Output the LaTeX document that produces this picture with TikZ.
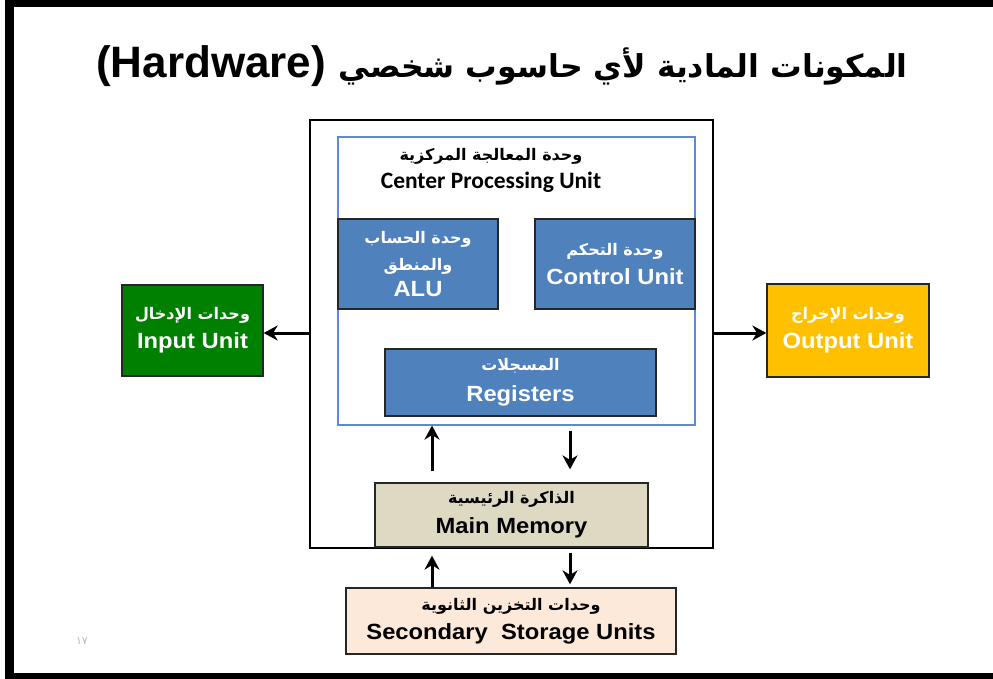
\documentclass[tikz,border=0pt]{standalone}
\usepackage{fontspec}
\setmainfont{Liberation Sans}
\newfontfamily\boxfont{Liberation Sans}[FakeStretch=1.08]
\newfontfamily\arabicfont[Script=Arabic]{DejaVu Sans}
\newfontfamily\calfont{Carlito}
\TeXXeTstate=1
\usetikzlibrary{arrows.meta}
\definecolor{partblue}{HTML}{4F81BD}
\definecolor{cpuline}{HTML}{5B8BD0}
\definecolor{inputgreen}{HTML}{008000}
\definecolor{outputgold}{HTML}{FFC000}
\definecolor{memtan}{HTML}{DDD9C3}
\definecolor{storepeach}{HTML}{FDE9D9}
\newcommand{\artext}[2][16]{{\arabicfont\fontsize{#1}{#1}\selectfont\beginR #2\endR}}
\tikzset{
    unit/.style={draw=black!85, line width=1.3pt, align=center, inner sep=0pt,
        font=\boxfont\bfseries\fontsize{22}{26}\selectfont},
    cpupart/.style={unit, fill=partblue, text=white},
    flow/.style={draw=black, line width=3pt, -{Stealth[length=14pt,width=15pt]}}
}
\begin{document}
\begin{tikzpicture}[x=1pt,y=-1pt]
\useasboundingbox (0,0) rectangle (993,679);
\fill[black] (5,0) rectangle (993,7);
\fill[black] (5,0) rectangle (14,679);
\fill[black] (5,673) rectangle (993,679);
\node (title) at (502,66) {\bfseries\fontsize{44}{48}\selectfont (Hardware) \artext[31.5]{المكونات المادية لأي حاسوب شخصي}};
\node[draw=black, line width=1.5pt, minimum width=403pt, minimum height=428pt] (sys) at (511.5,334) {};
\node[draw=cpuline, line width=1.2pt, minimum width=357pt, minimum height=288pt] (cpu) at (516.5,281) {};
\node[align=center, font=\calfont\bfseries\fontsize{23.5}{26}\selectfont] (cpulabel) at (491,170)
  {\artext{وحدة المعالجة المركزية}\\[2pt]Center Processing Unit};
\node[cpupart, minimum width=160pt, minimum height=90pt] (alu) at (418,264)
  {\artext{وحدة الحساب}\\[1pt]\artext{والمنطق}\\ALU};
\node[cpupart, minimum width=160pt, minimum height=90pt] (ctrl) at (615,264)
  {\artext{وحدة التحكم}\\[3pt]Control Unit};
\node[cpupart, minimum width=271pt, minimum height=67pt] (reg) at (520.5,382.5)
  {\artext{المسجلات}\\[5pt]Registers};
\node[unit, fill=memtan, minimum width=273pt, minimum height=64pt] (mem) at (511.5,515)
  {\artext{الذاكرة الرئيسية}\\[4pt]Main Memory};
\node[unit, fill=storepeach, minimum width=330pt, minimum height=66pt] (sec) at (511,621)
  {\artext{وحدات التخزين الثانوية}\\[3pt]Secondary\ \ Storage Units};
\node[unit, fill=inputgreen, text=white, minimum width=141pt, minimum height=91pt] (inp) at (192.5,330.5)
  {\artext{وحدات الإدخال}\\[3pt]Input Unit};
\node[unit, fill=outputgold, text=white, minimum width=162pt, minimum height=93pt] (out) at (848,330.5)
  {\artext{وحدات الإخراج}\\[3pt]Output Unit};
\node[text=gray!55] (page) at (82,641) {\artext[11]{١٧}};
\coordinate (upx) at (432,0);
\coordinate (dnx) at (570,0);
\draw[style={flow}] (sys.west |- 0,333) -- (inp.east |- 0,333);
\draw[style={flow}] (sys.east |- 0,333) -- (out.west |- 0,333);
\draw[style={flow}, shorten <=11pt] (mem.north -| upx) -- (cpu.south -| upx);
\draw[style={flow}, shorten <=5pt, shorten >=13pt] (cpu.south -| dnx) -- (mem.north -| dnx);
\draw[style={flow}, shorten >=8pt] (sec.north -| upx) -- (mem.south -| upx);
\draw[style={flow}, shorten <=5pt, shorten >=3pt] (mem.south -| dnx) -- (sec.north -| dnx);
\end{tikzpicture}
\end{document}
